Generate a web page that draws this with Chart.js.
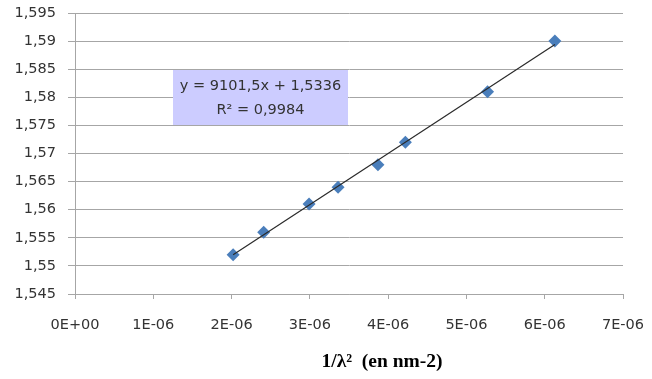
<!DOCTYPE html>
<html>
<head>
<meta charset="utf-8">
<script src="https://cdn.jsdelivr.net/npm/chart.js@4/dist/chart.umd.min.js"></script>
<style>
  html,body{margin:0;padding:0;background:#fff;}
  canvas{display:block;}
</style>
</head>
<body>
<canvas id="c" width="652" height="379"></canvas>
<script>
// 1/lambda^2 (nm-2) et indice mesuré
const invLambda2=[2.02e-6,2.41e-6,2.99e-6,3.36e-6,3.87e-6,4.22e-6,5.27e-6,6.13e-6];
const indice=[1.552,1.556,1.561,1.564,1.568,1.572,1.581,1.590];
// courbe de tendance (Excel)
const slope=9101.5, intercept=1.5336, r2=0.9984;
const yTickLabels=["1,545","1,55","1,555","1,56","1,565","1,57","1,575","1,58","1,585","1,59","1,595"];
const xTickLabels=["0E+00","1E-06","2E-06","3E-06","4E-06","5E-06","6E-06","7E-06"];
const xTitle="1/λ²  (en nm-2)";

const fr=(v)=>String(v).replace(".",",");
const num=(s)=>parseFloat(s.replace(",","."));

const pts=invLambda2.map((x,i)=>({x,y:indice[i]}));
const x0=Math.min(...invLambda2), x1=Math.max(...invLambda2);
const trend=[{x:x0,y:intercept+slope*x0},{x:x1,y:intercept+slope*x1}];

const GRID="#a6a6a6", TXT="#333333";
const tickFont={family:"DejaVu Sans",size:14.5};

// encadré de l'équation + titre de l'axe x
const extras={
  id:"extras",
  afterDatasetsDraw(chart){
    const {ctx,chartArea:a}=chart;
    ctx.save();
    const bx=a.left+98, by=a.top+57, bw=175, bh=55;
    ctx.fillStyle="#ccccff";
    ctx.fillRect(bx,by,bw,bh);
    ctx.fillStyle=TXT;
    ctx.font="14.5px 'DejaVu Sans'";
    ctx.textAlign="center"; ctx.textBaseline="middle";
    ctx.fillText(`y = ${fr(slope)}x + ${fr(intercept)}`,bx+bw/2,by+16);
    ctx.fillText(`R² = ${fr(r2)}`,bx+bw/2,by+40);
    ctx.fillStyle="#000";
    ctx.font="bold 19.5px 'Liberation Serif'";
    ctx.fillText(xTitle,(a.left+a.right)/2+33,362);
    ctx.restore();
  }
};

new Chart(document.getElementById("c"),{
  type:"scatter",
  data:{datasets:[
    {type:"line",data:trend,borderColor:"#2a2a2a",borderWidth:1.2,pointRadius:0,fill:false},
    {data:pts,pointStyle:"rectRot",pointRadius:6.5,backgroundColor:"#4a7ebb",borderColor:"#4a7ebb",borderWidth:0}
  ]},
  options:{
    responsive:false,animation:false,devicePixelRatio:1,
    layout:{padding:{left:0,right:29,top:13,bottom:0}},
    plugins:{legend:{display:false},tooltip:{enabled:false}},
    scales:{
      x:{type:"linear",min:0,max:7e-6,
        afterBuildTicks:(s)=>{s.ticks=xTickLabels.map(l=>({value:parseFloat(l)}));},
        afterFit:(s)=>{s.height=85; s.paddingLeft=0; s.paddingRight=0;},
        grid:{drawOnChartArea:false,color:GRID,tickLength:5},
        border:{color:GRID},
        ticks:{color:TXT,font:tickFont,padding:18,maxRotation:0,autoSkip:false,callback:(v,i)=>xTickLabels[i]}
      },
      y:{min:1.545,max:1.595,
        afterBuildTicks:(s)=>{s.ticks=yTickLabels.map(l=>({value:num(l)}));},
        afterFit:(s)=>{s.width=75; s.paddingTop=0; s.paddingBottom=0;},
        grid:{color:GRID,tickLength:7},
        border:{color:GRID},
        ticks:{color:TXT,font:tickFont,padding:12,autoSkip:false,callback:(v,i)=>yTickLabels[i]}
      }
    }
  },
  plugins:[extras]
});
</script>
</body>
</html>
